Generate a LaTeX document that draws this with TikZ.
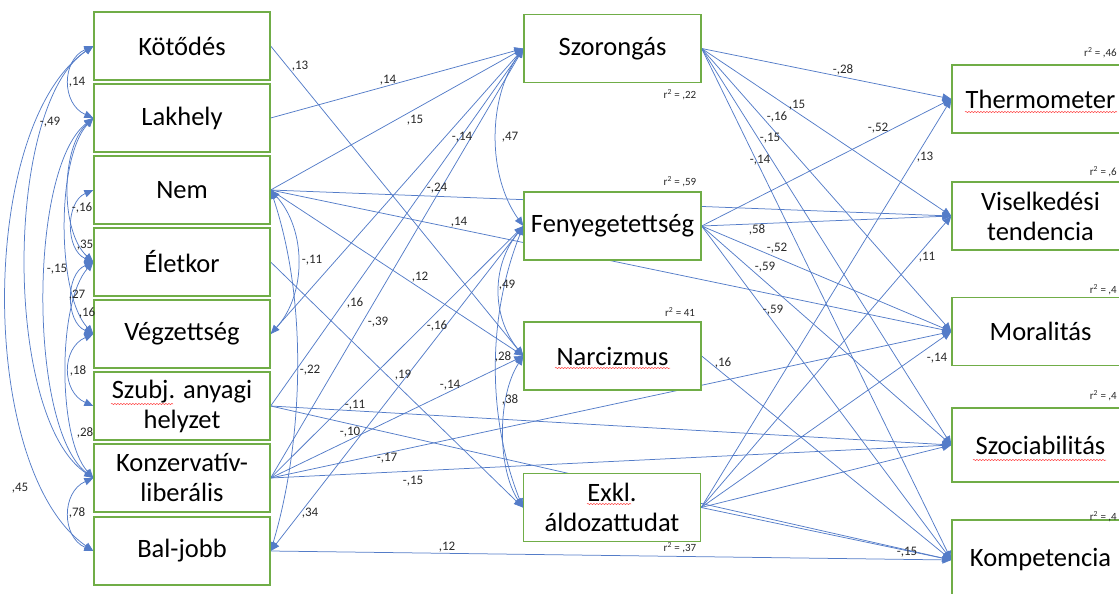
\documentclass[tikz,border=0pt]{standalone}
\usepackage{fontspec}
\setmainfont{Carlito}
\usetikzlibrary{arrows.meta,decorations.pathmorphing}
\pgfdeclarelayer{bg}
\pgfsetlayers{bg,main}
\definecolor{ln}{RGB}{84,124,200}
\definecolor{bx}{RGB}{112,173,71}
\definecolor{tx}{RGB}{40,40,40}
\begin{document}
\begin{tikzpicture}[x=1pt,y=-1pt,
 box/.style={draw=bx, line width=1.3pt, fill=white, minimum width=176pt, minimum height=68pt, inner sep=0pt, align=center, font=\fontsize{26.5}{30}\selectfont, text=black},
 con/.style={draw=ln, line width=0.75pt, -{Triangle[length=9pt,width=7.5pt]}},
 cov/.style={draw=ln, line width=0.75pt, {Triangle[length=9pt,width=7.5pt]}-{Triangle[length=9pt,width=7.5pt]}},
 lab/.style={font=\fontsize{13}{15}\selectfont, text=tx, inner sep=0pt},
 rsq/.style={font=\fontsize{11}{13}\selectfont, text=tx, inner sep=0pt},
 wavy/.style={draw=red!75, line width=0.5pt, decorate, decoration={snake, segment length=3pt, amplitude=0.6pt}}
]
\useasboundingbox (0,0) rectangle (1119,594);
\clip (0,0) rectangle (1119,594);

% left column
\node[box] (kot) at (182,46) {Kötődés};
\node[box] (lak) at (182,118) {Lakhely};
\node[box] (nem) at (182,190) {Nem};
\node[box] (elet) at (182,262) {Életkor};
\node[box] (vegz) at (182,334) {Végzettség};
\node[box] (szubj) at (182,406) {Szubj. anyagi\\helyzet};
\node[box] (konz) at (182,478) {Konzervatív-\\liberális};
\node[box] (bal) at (182,551) {Bal-jobb};

% middle column
\node[box, minimum width=177pt] (szor) at (612.5,48.5) {Szorongás};
\node[box, minimum width=177pt] (feny) at (612.5,226) {Fenyegetettség};
\node[box, minimum width=177pt] (narc) at (612.5,356) {Narcizmus};
\node[box, minimum width=177pt] (exkl) at (612,507.5) {Exkl.\\áldozattudat};

% right column
\node[box, minimum width=177pt] (therm) at (1040.5,99) {Thermometer};
\node[box, minimum width=177pt] (visel) at (1040.5,216) {Viselkedési\\tendencia};
\node[box, minimum width=177pt] (moral) at (1040.5,331.5) {Moralitás};
\node[box, minimum width=177pt, minimum height=74pt] (szoc) at (1040.5,445) {Szociabilitás};
\node[box, minimum width=177pt, minimum height=80pt] (komp) at (1040.5,560) {Kompetencia};

\begin{pgfonlayer}{bg}
% covariances left
\draw[cov] (kot.west) .. controls +(-32,14) and +(-32,-14) .. (lak.west);
\draw[cov] (kot.west) .. controls +(-90,60) and +(-90,-60) .. (konz.west);
\draw[cov] (kot.west) .. controls +(-116,80) and +(-116,-80) .. (bal.west);
\draw[cov] (lak.west) .. controls +(-65,50) and +(-65,-50) .. (konz.west);
\draw[cov] (lak.west) .. controls +(-33,30) and +(-33,-30) .. (elet.west);
\draw[cov] (lak.west) .. controls +(-37,40) and +(-37,-40) .. (vegz.west);
\draw[cov] (nem.west) .. controls +(-28,12) and +(-28,-12) .. (elet.west);
\draw[cov] (elet.west) .. controls +(-28,12) and +(-28,-12) .. (vegz.west);
\draw[cov] (vegz.west) .. controls +(-32,14) and +(-32,-14) .. (szubj.west);
\draw[cov] (elet.west) .. controls +(-36,40) and +(-36,-40) .. (konz.west);
\draw[cov] (konz.west) .. controls +(-32,14) and +(-32,-14) .. (bal.west);
% covariances right of left column
\draw[cov] (nem.east) .. controls +(36,40) and +(36,-40) .. (vegz.east);
\draw[cov] (nem.east) .. controls +(40,120) and +(30,-100) .. (bal.east);
% covariances of middle column
\draw[cov] (szor.west) .. controls +(-36,50) and +(-36,-50) .. (feny.west);
\draw[cov] (feny.west) .. controls +(-32,40) and +(-32,-40) .. (narc.west);
\draw[cov] (feny.west) .. controls +(-36,90) and +(-36,-90) .. (exkl.west);
\draw[cov] (narc.west) .. controls +(-26,40) and +(-26,-40) .. (exkl.west);

% paths left -> middle / right
\draw[con] (kot.east) -- (narc.west);
\draw[con] (lak.east) -- (szor.west);
\draw[con] (nem.east) -- (szor.west);
\draw[con] (nem.east) -- (narc.west);
\draw[con] (nem.east) -- (visel.west);
\draw[con] (nem.east) -- (moral.west);
\draw[con] (elet.east) -- (exkl.west);
\draw[con] (vegz.east) -- (szor.west);
\draw[con] (szubj.east) -- (szor.west);
\draw[con] (szubj.east) -- (szoc.west);
\draw[con] (szubj.east) -- (komp.west);
\draw[con] (konz.east) -- (szor.west);
\draw[con] (konz.east) -- (feny.west);
\draw[con] (konz.east) -- (narc.west);
\draw[con] (konz.east) -- (moral.west);
\draw[con] (konz.east) -- (szoc.west);
\draw[con] (feny.west) -- (bal.east);
\draw[con] (bal.east) -- (komp.west);

% paths middle -> right
\foreach \t in {therm,visel,moral,szoc,komp}{
  \draw[con] (szor.east) -- (\t.west);
  \draw[con] (feny.east) -- (\t.west);
  \draw[con] (exkl.east) -- (\t.west);
}
\draw[con] (narc.east) -- (komp.west);
\end{pgfonlayer}

% spell-check underlines
\draw[wavy] (965,112) -- (1117,112);
\draw[wavy] (555,368) -- (670,368);
\draw[wavy] (973,460) -- (1106,460);
\draw[wavy] (111,404) -- (173,404);
\draw[wavy] (587,504) -- (631,504);

% left labels
\node[lab] (a1) at (77,82) {,14};
\node[lab] (a2) at (50,122) {-,49};
\node[lab] (a3) at (82,208) {-,16};
\node[lab] (a4) at (85,245) {,35};
\node[lab] (a5) at (57,269) {-,15};
\node[lab] (a6) at (77,295) {,27};
\node[lab] (a7) at (87,313) {,16};
\node[lab] (a8) at (78,371) {,18};
\node[lab] (a9) at (85,433) {,28};
\node[lab] (a10) at (20,488) {,45};
\node[lab] (a11) at (77,513) {,78};

% centre-left labels
\node[lab] (b1) at (300,66) {,13};
\node[lab] (b2) at (388,80) {,14};
\node[lab] (b3) at (415,120) {,15};
\node[lab] (b4) at (462,137) {-,14};
\node[lab] (b5) at (437,188) {-,24};
\node[lab] (b6) at (459,222) {,14};
\node[lab] (b7) at (312,260) {-,11};
\node[lab] (b8) at (420,277) {,12};
\node[lab] (b9) at (510,137) {,47};
\node[lab] (b10) at (507,285) {,49};
\node[lab] (b11) at (355,303) {,16};
\node[lab] (b12) at (378,322) {-,39};
\node[lab] (b13) at (437,326) {-,16};
\node[lab] (b14) at (310,370) {-,22};
\node[lab] (b15) at (403,375) {,19};
\node[lab] (b16) at (450,385) {-,14};
\node[lab] (b17) at (503,357) {,28};
\node[lab] (b18) at (510,400) {,38};
\node[lab] (b19) at (355,405) {-,11};
\node[lab] (b20) at (350,432) {-,10};
\node[lab] (b21) at (387,458) {-,17};
\node[lab] (b22) at (413,481) {-,15};
\node[lab] (b23) at (310,513) {,34};
\node[lab] (b24) at (447,547) {,12};

% right labels
\node[lab] (c1) at (843,70) {-,28};
\node[lab] (c2) at (797,105) {,15};
\node[lab] (c3) at (777,117) {-,16};
\node[lab] (c4) at (770,138) {-,15};
\node[lab] (c5) at (760,160) {-,14};
\node[lab] (c6) at (878,128) {-,52};
\node[lab] (c7) at (925,157) {,13};
\node[lab] (c8) at (757,230) {,58};
\node[lab] (c9) at (777,248) {-,52};
\node[lab] (c10) at (765,267) {-,59};
\node[lab] (c11) at (927,257) {,11};
\node[lab] (c12) at (773,310) {-,59};
\node[lab] (c13) at (937,358) {-,14};
\node[lab] (c14) at (907,552) {-,15};
\node[lab] (c15) at (723,363) {,16};

% r squared
\node[rsq] (r1) at (680,95) {r\textsuperscript{2} = ,22};
\node[rsq] (r2) at (680,182) {r\textsuperscript{2} = ,59};
\node[rsq] (r3) at (680,312) {r\textsuperscript{2} = 41};
\node[rsq] (r4) at (680,548) {r\textsuperscript{2} = ,37};
\node[rsq, anchor=east] (r5) at (1117,53) {r\textsuperscript{2} = ,46};
\node[rsq, anchor=east] (r6) at (1117,172) {r\textsuperscript{2} = ,6};
\node[rsq, anchor=east] (r7) at (1117,290) {r\textsuperscript{2} = ,4};
\node[rsq, anchor=east] (r8) at (1117,396) {r\textsuperscript{2} = ,4};
\node[rsq, anchor=east] (r9) at (1117,517) {r\textsuperscript{2} = ,4};
\end{tikzpicture}
\end{document}
